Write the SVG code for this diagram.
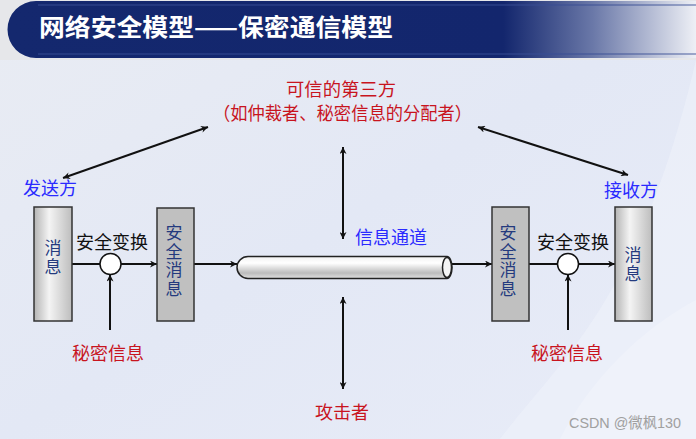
<svg xmlns="http://www.w3.org/2000/svg" width="696" height="439" viewBox="0 0 696 439">
<defs>
<linearGradient id="bg" x1="0" y1="0" x2="1" y2="1">
<stop offset="0" stop-color="#e9ecf3"/>
<stop offset="0.5" stop-color="#e3e8f5"/>
<stop offset="1" stop-color="#e8ecf8"/>
</linearGradient>
<linearGradient id="bar" x1="0" y1="0" x2="1" y2="0">
<stop offset="0" stop-color="#14286e"/>
<stop offset="0.72" stop-color="#13266d"/>
<stop offset="0.85" stop-color="#6a78a8"/>
<stop offset="1" stop-color="#eef0f6"/>
</linearGradient>
<linearGradient id="msg" x1="0" y1="0" x2="1" y2="0">
<stop offset="0" stop-color="#b4b4b4"/>
<stop offset="0.4" stop-color="#f4f4f4"/>
<stop offset="1" stop-color="#bdbdbd"/>
</linearGradient>
<linearGradient id="pipe" x1="0" y1="0" x2="0" y2="1">
<stop offset="0" stop-color="#f2f2f2"/>
<stop offset="0.3" stop-color="#ffffff"/>
<stop offset="0.75" stop-color="#bcbcbc"/>
<stop offset="1" stop-color="#e0e0e0"/>
</linearGradient>
<marker id="ah" viewBox="0 0 10 10" refX="10" refY="5" markerWidth="9" markerHeight="7" markerUnits="userSpaceOnUse" orient="auto-start-reverse">
<path d="M0,0 L10,5 L0,10 L3,5 Z" fill="#111"/>
</marker>
<style>
.cn{font-family:"Noto Sans CJK SC","Noto Sans",sans-serif;}
.red{fill:#c8141e;font-size:18px;}
.blue{fill:#2a2aff;font-size:18px;}
.blk{fill:#111;font-size:18px;}
.nav{fill:#243a7e;font-size:17px;writing-mode:vertical-rl;}
.ln{stroke:#111;stroke-width:2;fill:none;}
.box{stroke:#333;stroke-width:1.5;}
</style>
</defs>
<rect width="696" height="439" fill="url(#bg)"/>
<path d="M696,300 C640,330 590,380 560,439 L696,439 Z" fill="#f3f5fb" opacity="0.8"/>
<path d="M696,60 L696,439 L500,439 C560,360 640,300 696,60 Z" fill="#eef1fa" opacity="0.6"/>

<g id="title">
<rect x="0" y="0" width="696" height="60" fill="#e6e7ea"/>
<path d="M36,1 H696 V58 H36 A28.5,28.5 0 0 1 36,1 Z" fill="url(#bar)"/>
<path d="M38,5 H696 M38,54 H696" stroke="#3a4f95" stroke-width="1.5" opacity="0.6"/>
<text x="39" y="36" class="cn" font-size="24" font-weight="bold" fill="#ffffff" textLength="354" lengthAdjust="spacingAndGlyphs">网络安全模型——保密通信模型</text>
</g>

<g id="connectors">
<line class="ln" x1="63" y1="178" x2="208" y2="127" marker-start="url(#ah)" marker-end="url(#ah)"/>
<line class="ln" x1="478" y1="127" x2="628" y2="175" marker-start="url(#ah)" marker-end="url(#ah)"/>
<line class="ln" x1="343" y1="147" x2="343" y2="239" marker-start="url(#ah)" marker-end="url(#ah)"/>
<line class="ln" x1="343" y1="297" x2="343" y2="389" marker-start="url(#ah)" marker-end="url(#ah)"/>
<line class="ln" x1="72" y1="264" x2="100" y2="264"/>
<line class="ln" x1="120" y1="264" x2="157" y2="264" marker-end="url(#ah)"/>
<line class="ln" x1="110" y1="330" x2="110" y2="274.5" marker-end="url(#ah)"/>
<line class="ln" x1="194" y1="264" x2="237" y2="264" marker-end="url(#ah)"/>
<line class="ln" x1="452" y1="264" x2="492" y2="264" marker-end="url(#ah)"/>
<line class="ln" x1="529" y1="264" x2="558" y2="264"/>
<line class="ln" x1="578" y1="264" x2="615" y2="264" marker-end="url(#ah)"/>
<line class="ln" x1="568" y1="330" x2="568" y2="274.5" marker-end="url(#ah)"/>
</g>

<g id="trusted">
<text x="286" y="96" class="cn red" font-size="17" textLength="110" lengthAdjust="spacingAndGlyphs">可信的第三方</text>
<text x="213" y="120" class="cn red" font-size="17" textLength="259" lengthAdjust="spacingAndGlyphs">（如仲裁者、秘密信息的分配者）</text>
</g>

<g id="sender">
<text x="23" y="195" class="cn blue">发送方</text>
<rect class="box" x="34" y="207" width="38" height="114" fill="url(#msg)"/>
<text x="53" y="239.5" class="cn nav" letter-spacing="2">消息</text>
</g>

<g id="enc-left">
<text x="76" y="249" class="cn blk">安全变换</text>
<circle cx="110.5" cy="264" r="10.5" fill="#ffffff" stroke="#111" stroke-width="1.5"/>
</g>
<g id="secret-left">
<text x="108" y="360" class="cn red" text-anchor="middle">秘密信息</text>
</g>

<g id="secmsg-left">
<rect class="box" x="157" y="208" width="37" height="113" fill="#c0c0c0"/>
<text x="174" y="224" class="cn nav" letter-spacing="1.7">安全消息</text>
</g>

<g id="channel">
<path d="M248,256.5 H447 A5,11 0 0 1 447,278.5 H248 A11,11 0 0 1 248,256.5 Z" fill="url(#pipe)" stroke="#222" stroke-width="1.5"/>
<ellipse cx="447" cy="267.5" rx="4.5" ry="10" fill="#f4f4f4" stroke="#222" stroke-width="1.5"/>
<text x="355" y="244" class="cn blue">信息通道</text>
</g>

<g id="attacker">
<text x="342" y="419" class="cn red" text-anchor="middle">攻击者</text>
</g>

<g id="secmsg-right">
<rect class="box" x="492" y="207" width="37" height="114" fill="#c0c0c0"/>
<text x="508" y="224" class="cn nav" letter-spacing="1.7">安全消息</text>
</g>

<g id="enc-right">
<text x="537" y="249" class="cn blk">安全变换</text>
<circle cx="568" cy="264" r="10.5" fill="#ffffff" stroke="#111" stroke-width="1.5"/>
</g>
<g id="secret-right">
<text x="567" y="360" class="cn red" text-anchor="middle">秘密信息</text>
</g>

<g id="receiver">
<text x="604" y="197" class="cn blue">接收方</text>
<rect class="box" x="615" y="207" width="37" height="114" fill="url(#msg)"/>
<text x="633" y="246" class="cn nav" letter-spacing="2.5">消息</text>
</g>

<text x="569" y="428" font-family="Liberation Sans, Noto Sans CJK SC, sans-serif" font-size="15" fill="#a0a0a0" textLength="112" lengthAdjust="spacingAndGlyphs">CSDN @微枫130</text>
</svg>
